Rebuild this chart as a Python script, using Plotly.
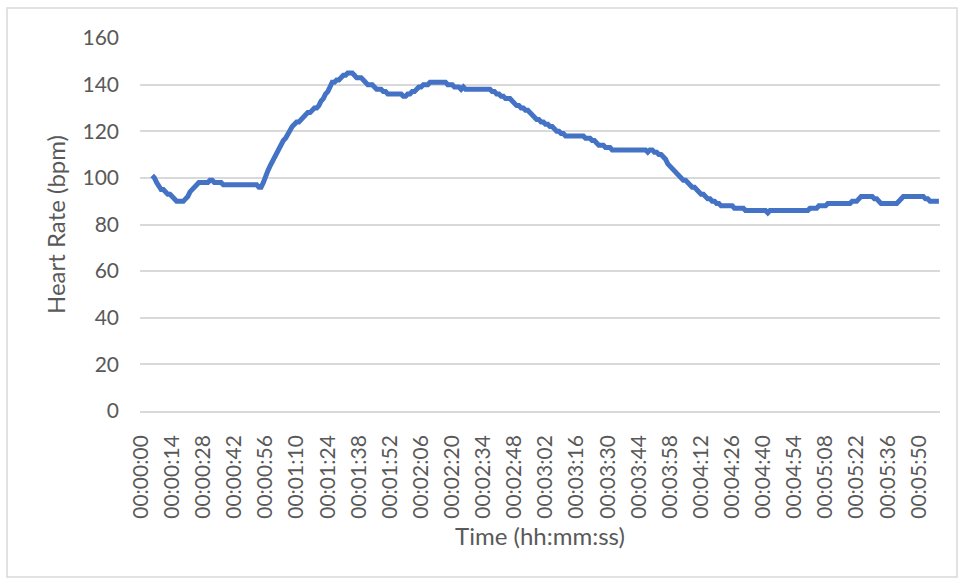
import plotly.graph_objects as go

# Heart rate recording, one sample per second (first few seconds not recorded)
seconds = list(range(360))
heart_rate = [
    None, None, None, None, None, 101, 100, 98, 96, 95,
    95, 94, 93, 93, 92, 91, 90, 90, 90, 90,
    91, 92, 94, 95, 96, 97, 98, 98, 98, 98,
    98, 99, 99, 98, 98, 98, 98, 97, 97, 97,
    97, 97, 97, 97, 97, 97, 97, 97, 97, 97,
    97, 97, 97, 96, 96, 98, 101, 103, 105, 107,
    108, 110, 112, 114, 116, 117, 119, 121, 122, 123,
    124, 124, 125, 126, 127, 128, 128, 129, 130, 130,
    131, 133, 134, 136, 137, 139, 141, 141, 142, 142,
    143, 144, 144, 145, 145, 145, 144, 143, 143, 143,
    142, 141, 140, 140, 140, 139, 138, 138, 138, 137,
    137, 136, 136, 136, 136, 136, 136, 136, 135, 135,
    136, 136, 137, 137, 138, 139, 139, 140, 140, 140,
    141, 141, 141, 141, 141, 141, 141, 141, 140, 140,
    140, 139, 139, 139, 138, 139, 138, 138, 138, 138,
    138, 138, 138, 138, 138, 138, 138, 138, 137, 137,
    136, 136, 135, 135, 134, 134, 134, 133, 132, 131,
    131, 130, 130, 129, 129, 128, 127, 126, 125, 125,
    124, 124, 123, 123, 122, 122, 121, 120, 120, 119,
    119, 118, 118, 118, 118, 118, 118, 118, 118, 118,
    117, 117, 117, 116, 116, 115, 114, 114, 114, 113,
    113, 113, 112, 112, 112, 112, 112, 112, 112, 112,
    112, 112, 112, 112, 112, 112, 112, 112, 111, 112,
    112, 111, 111, 110, 110, 109, 108, 106, 105, 104,
    103, 102, 101, 100, 99, 99, 98, 97, 96, 96,
    95, 94, 93, 93, 92, 91, 91, 90, 90, 89,
    89, 88, 88, 88, 88, 88, 88, 87, 87, 87,
    87, 87, 86, 86, 86, 86, 86, 86, 86, 86,
    86, 86, 85, 86, 86, 86, 86, 86, 86, 86,
    86, 86, 86, 86, 86, 86, 86, 86, 86, 86,
    86, 87, 87, 87, 87, 88, 88, 88, 88, 89,
    89, 89, 89, 89, 89, 89, 89, 89, 89, 89,
    90, 90, 90, 91, 92, 92, 92, 92, 92, 92,
    91, 91, 90, 89, 89, 89, 89, 89, 89, 89,
    89, 90, 91, 92, 92, 92, 92, 92, 92, 92,
    92, 92, 92, 91, 91, 90, 90, 90, 90, 90,
]


def hms(s):
    return f"{s // 3600:02d}:{(s % 3600) // 60:02d}:{s % 60:02d}"


time_labels = [hms(s) for s in seconds]
tick_step = 14
tick_labels = time_labels[::tick_step]
y_ticks = [0, 20, 40, 60, 80, 100, 120, 140, 160]

FONT = "Lato"
TEXT = "#595959"
GRID = "#d9d9d9"

fig = go.Figure(
    go.Scatter(
        x=time_labels,
        y=heart_rate,
        mode="lines",
        line=dict(color="#4472C4", width=5),
        connectgaps=False,
        showlegend=False,
    )
)

fig.update_layout(
    width=958,
    height=584,
    margin=dict(l=140, r=18, t=38, b=173),
    paper_bgcolor="white",
    plot_bgcolor="white",
    font=dict(family=FONT, color=TEXT, size=21),
    xaxis=dict(
        type="category",
        categoryorder="array",
        categoryarray=time_labels,
        range=[-0.5, len(time_labels) - 0.5],
        tickmode="array",
        tickvals=tick_labels,
        ticktext=tick_labels,
        tickangle=-90,
        showgrid=False,
        showline=True,
        linecolor=GRID,
        linewidth=1.5,
        ticks="",
        ticklabelstandoff=14,
        tickfont=dict(family=FONT, color=TEXT, size=21),
        title=dict(text="Time (hh:mm:ss)", font=dict(family=FONT, color=TEXT, size=24), standoff=10),
        zeroline=False,
    ),
    yaxis=dict(
        range=[0, 160],
        tickmode="array",
        tickvals=y_ticks,
        showgrid=True,
        gridcolor=GRID,
        gridwidth=1.5,
        zeroline=False,
        showline=False,
        ticks="",
        ticklabelstandoff=20,
        tickfont=dict(family=FONT, color=TEXT, size=21),
        title=dict(text="Heart Rate (bpm)", font=dict(family=FONT, color=TEXT, size=24), standoff=10),
    ),
    shapes=[
        dict(
            type="rect",
            xref="paper",
            yref="paper",
            x0=(7 - 140) / 800,
            x1=(957 - 140) / 800,
            y0=-(577 - 411) / 373,
            y1=1 + (38 - 8) / 373,
            line=dict(color=GRID, width=1.5),
            fillcolor="rgba(0,0,0,0)",
            layer="below",
        )
    ],
)

fig.write_html("out.html")
